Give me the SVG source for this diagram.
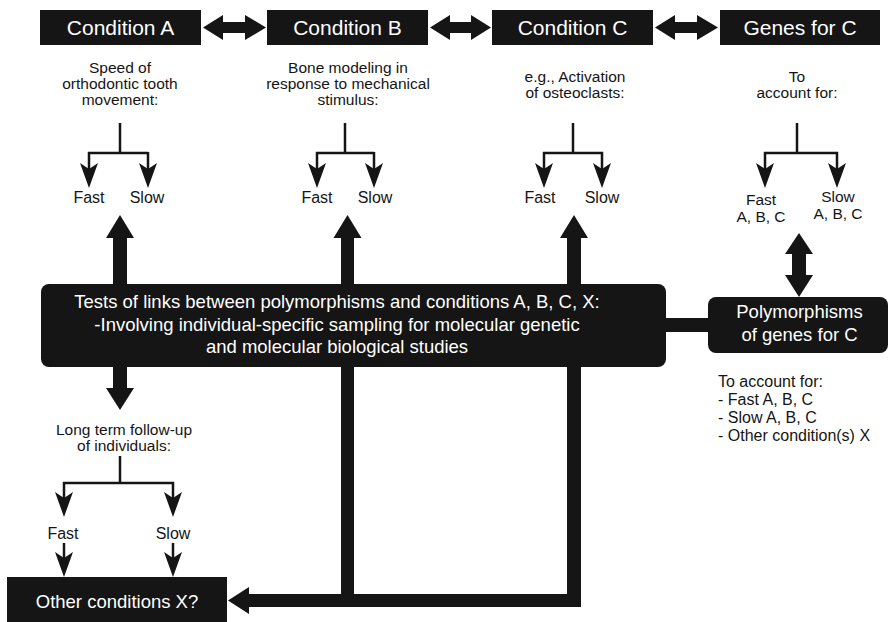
<svg xmlns="http://www.w3.org/2000/svg" xmlns:xlink="http://www.w3.org/1999/xlink" width="889" height="622" viewBox="0 0 889 622">
<style>
.box{fill:#151515}
.wt{fill:#fff;font-family:"Liberation Sans",Arial,sans-serif;text-anchor:middle}
.big{font-size:21px}
.mid{font-size:18.5px}
.t{fill:#151515;font-family:"Liberation Sans",Arial,sans-serif;font-size:16px;text-anchor:middle}
.d{fill:#151515;font-family:"Liberation Sans",Arial,sans-serif;font-size:15.5px;text-anchor:middle}
.tl{fill:#151515;font-family:"Liberation Sans",Arial,sans-serif;font-size:16px}
.ln{fill:none;stroke:#151515;stroke-width:2.5}
.fa{fill:#151515}
</style>
<defs>
<path id="ah" d="M0,0 L-9,-25 L0,-19 L9,-25 Z" fill="#151515"/>
</defs>
<rect width="889" height="622" fill="#fff"/>

<g id="connectors">
  <path class="fa" d="M203,27.5 L223,15 V22 H245 V15 L266,27.5 L245,40 V33 H223 V40 Z"/>
  <path class="fa" d="M430,27.5 L450,15 V22 H471 V15 L491,27.5 L471,40 V33 H450 V40 Z"/>
  <path class="fa" d="M655,27.5 L675,15 V22 H697 V15 L718,27.5 L697,40 V33 H675 V40 Z"/>
  <path class="ln" d="M120,123 V153 M88,153 H148 M89,152 V170 M148,152 V170"/>
  <use xlink:href="#ah" x="89" y="188"/><use xlink:href="#ah" x="148" y="188"/>
  <path class="ln" d="M345,123 V153 M316,153 H374 M317,152 V170 M374,152 V170"/>
  <use xlink:href="#ah" x="317" y="188"/><use xlink:href="#ah" x="374" y="188"/>
  <path class="ln" d="M573,123 V153 M543,153 H603 M544,152 V170 M602,152 V170"/>
  <use xlink:href="#ah" x="544" y="188"/><use xlink:href="#ah" x="602" y="188"/>
  <path class="ln" d="M797,123 V153 M764,153 H838 M765,152 V170 M837,152 V170"/>
  <use xlink:href="#ah" x="765" y="188"/><use xlink:href="#ah" x="837" y="188"/>
  <path class="fa" d="M113,290 V238 H106 L120,215 L134,238 H127 V290 Z"/>
  <path class="fa" d="M341,607 V238 H333.5 L347.5,215 L361.5,238 H354 V594 H567 V238 H560 L574,215 L588,238 H581 V607 Z"/>
  <path class="fa" d="M228,600.5 L249,587 V594 H345 V607 H249 V614 Z"/>
  <path class="fa" d="M113,360 V388 H106 L120,410 L134,388 H127 V360 Z"/>
  <rect class="fa" x="660" y="318" width="54" height="14"/>
  <path class="fa" d="M799,233 L813,254 H806 V275 H813 L799,297 L785,275 H792 V254 H785 Z"/>
  <path class="ln" d="M120,456 V483 M63,483 H174 M64,482 V500 M173,482 V500"/>
  <use xlink:href="#ah" x="64" y="517"/><use xlink:href="#ah" x="173" y="517"/>
  <path class="ln" d="M64,543 V562 M173,543 V562"/>
  <use xlink:href="#ah" x="64" y="577"/><use xlink:href="#ah" x="173" y="577"/>
</g>

<g id="condA"><rect class="box" x="40" y="10" width="161" height="35"/><text class="wt big" x="120.5" y="35">Condition A</text></g>
<g id="condB"><rect class="box" x="267" y="10" width="161" height="35"/><text class="wt big" x="347.5" y="35">Condition B</text></g>
<g id="condC"><rect class="box" x="492" y="10" width="161" height="35"/><text class="wt big" x="572.5" y="35">Condition C</text></g>
<g id="genesC"><rect class="box" x="720" y="10" width="160" height="35"/><text class="wt big" x="800" y="35">Genes for C</text></g>

<g id="descA"><text class="d" x="120" y="73">Speed of</text><text class="d" x="120" y="89">orthodontic tooth</text><text class="d" x="120" y="105">movement:</text></g>
<g id="descB"><text class="d" x="348" y="73">Bone modeling in</text><text class="d" x="348" y="89">response to mechanical</text><text class="d" x="348" y="105">stimulus:</text></g>
<g id="descC"><text class="d" x="575" y="82">e.g., Activation</text><text class="d" x="575" y="98">of osteoclasts:</text></g>
<g id="descG"><text class="d" x="797" y="82">To</text><text class="d" x="797" y="98">account for:</text></g>

<g id="fastslowA"><text class="t" x="89" y="203">Fast</text><text class="t" x="147" y="203">Slow</text></g>
<g id="fastslowB"><text class="t" x="317" y="203">Fast</text><text class="t" x="375" y="203">Slow</text></g>
<g id="fastslowC"><text class="t" x="540" y="203">Fast</text><text class="t" x="602" y="203">Slow</text></g>
<g id="fastslowG"><text class="d" x="761" y="205">Fast</text><text class="d" x="761" y="222">A, B, C</text><text class="d" x="838" y="202">Slow</text><text class="d" x="838" y="219">A, B, C</text></g>

<g id="tests"><rect class="box" x="41" y="284" width="625" height="83" rx="8"/>
<text class="wt mid" x="337" y="308">Tests of links between polymorphisms and conditions A, B, C, X:</text>
<text class="wt mid" x="337" y="331">-Involving individual-specific sampling for molecular genetic</text>
<text class="wt mid" x="337" y="353">and molecular biological studies</text></g>

<g id="poly"><rect class="box" x="708" y="297" width="180" height="56" rx="8"/>
<text class="wt mid" x="799.5" y="318">Polymorphisms</text><text class="wt mid" x="799.5" y="341">of genes for C</text></g>

<g id="polynote"><text class="tl" x="718" y="387">To account for:</text><text class="tl" x="718" y="405">- Fast A, B, C</text><text class="tl" x="718" y="423">- Slow A, B, C</text><text class="tl" x="718" y="441">- Other condition(s) X</text></g>

<g id="followup"><text class="d" x="124" y="435">Long term follow-up</text><text class="d" x="124" y="451">of individuals:</text></g>
<g id="fastslowX"><text class="t" x="63" y="539">Fast</text><text class="t" x="173" y="539">Slow</text></g>

<g id="other"><rect class="box" x="7" y="577" width="220" height="45"/><text class="wt mid" x="117" y="608">Other conditions X?</text></g>
</svg>
